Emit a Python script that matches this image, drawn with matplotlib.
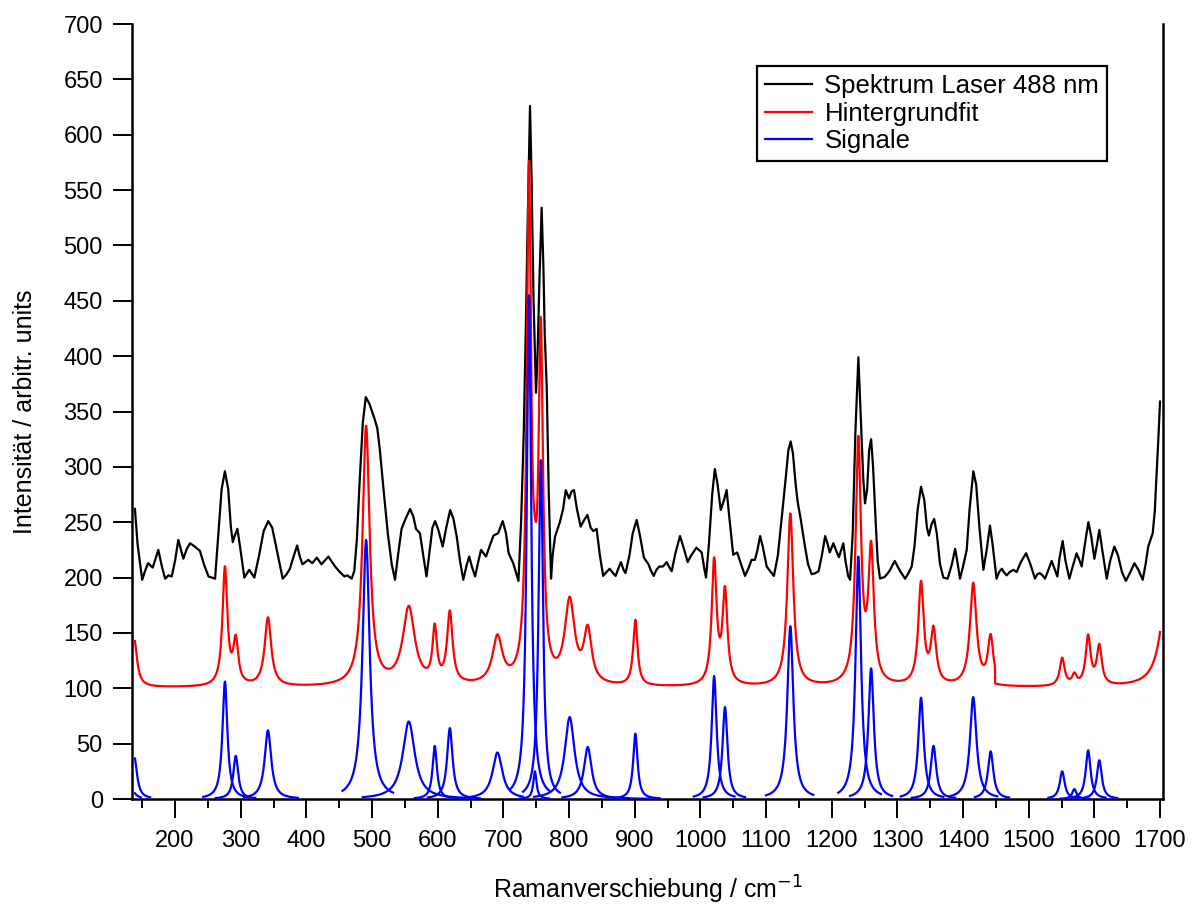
import numpy as np
import matplotlib
matplotlib.use("Agg")
import matplotlib.pyplot as plt
from matplotlib.ticker import MultipleLocator
from matplotlib.lines import Line2D

plt.rcParams['font.family'] = ['Liberation Sans', 'DejaVu Sans']

# ---- measured spectrum (black) ----
spec_x = [139, 143, 150, 155, 159, 166, 174.6, 180, 185, 190, 195, 200, 205, 209, 212.7, 218, 223, 230, 238, 244,
          251, 261, 266, 271, 276, 281, 285, 288, 291, 295, 299, 305.6, 313, 320.8, 328, 335, 342, 348, 355, 364,
          370, 375, 380, 386, 390, 394, 403, 409, 416, 423, 433.5, 443.7, 451, 458, 462.5, 469, 473, 477, 481, 486, 490.5,
          496, 503, 508, 512, 517, 524, 530, 535, 540, 545, 551, 558, 563, 567, 573, 578, 583, 588, 592, 596,
          601, 607.6, 613, 619, 624, 629, 634, 639, 644, 648, 652, 657, 662, 666, 673.6, 680, 685, 692, 699, 704,
          708, 715, 719, 723, 727, 731, 734, 737, 740.6, 743, 746, 749.7, 752, 755, 758.3, 761, 763, 766, 769, 772.6,
          775, 778.7, 786, 791, 795, 800, 804, 807.6, 812, 817.7, 823, 828, 833, 837, 842, 847, 852, 857, 862, 867,
          871, 875, 879, 883, 886, 892, 897, 903, 908, 914, 921, 925, 929, 933, 937.5, 943, 948.7, 953, 956.3, 962,
          969, 975, 980.7, 986, 994, 1002, 1006, 1008.6, 1013, 1018, 1022, 1026, 1031, 1036, 1040, 1044, 1050, 1056, 1062, 1068,
          1073, 1078, 1083, 1087, 1091, 1095, 1101, 1106, 1112, 1118, 1124, 1130, 1134, 1137.5, 1141, 1145, 1148, 1153, 1159, 1164,
          1169.5, 1175, 1180, 1185, 1190, 1194, 1197, 1202.5, 1207, 1211, 1217.7, 1221, 1225, 1228, 1232, 1236, 1240.6, 1244, 1248, 1250.7,
          1254, 1257, 1260, 1263, 1267, 1270, 1273.6, 1281, 1288, 1296, 1304, 1311.7, 1316, 1321.8, 1326, 1331, 1336, 1341, 1345, 1348,
          1352, 1356, 1360, 1365, 1370, 1376.6, 1383, 1388, 1392, 1395.4, 1400, 1405.6, 1410, 1415.7, 1420, 1425, 1431, 1436, 1441, 1445,
          1451, 1455, 1459, 1462, 1466.5, 1471, 1476.6, 1481.7, 1488, 1496, 1502, 1509.6, 1513, 1517, 1521, 1524.8, 1530, 1535, 1540, 1543.6,
          1547, 1551.7, 1556, 1561.9, 1567, 1573, 1577, 1580.7, 1585, 1590.8, 1595, 1600, 1604, 1607.6, 1612, 1618.8, 1624, 1630.4, 1636, 1642,
          1648, 1654, 1661, 1667, 1673.6, 1678, 1682, 1688.8, 1692, 1694, 1697, 1700]
spec_y = [262, 230, 198, 207, 213, 209, 225, 210, 199, 202, 201, 215, 234, 225, 217, 226, 231, 228, 224, 212,
          201, 199, 240, 280, 296, 280, 246, 232, 238, 244, 228, 200, 207, 200, 220, 242, 251, 245, 225, 199,
          203, 208, 218, 229, 219, 212, 216, 213, 218, 212, 219, 210, 205, 201, 202, 199, 206, 235, 285, 340, 363,
          357, 345, 335, 315, 283, 240, 212, 198, 222, 244, 253, 262, 255, 244, 240, 220, 201, 225, 245, 251,
          243, 228, 245, 261, 253, 237, 215, 198, 211, 219, 210, 201, 215, 225, 219, 230, 238, 240, 251, 240,
          222, 213, 205, 197, 250, 330, 420, 520, 626, 560, 450, 367, 400, 470, 534, 480, 420, 373, 280, 199,
          220, 237, 250, 262, 279, 271.5, 278, 279, 262, 246, 252, 256.6, 245, 242, 244, 220, 201.5, 205, 208, 204,
          201.5, 208, 214, 207, 204, 220, 240, 252, 238, 218, 212, 206, 201.5, 207, 210, 210, 214, 209, 205.7, 222,
          237.5, 226, 214, 220, 227, 222.7, 208, 200, 230, 275, 298, 285, 261, 270, 279, 255, 220.6, 222.7, 212, 201.5,
          208, 216, 216, 225, 237.5, 228, 210, 206, 201.5, 220, 254.5, 290, 315, 323, 312, 285, 269, 252, 229, 212,
          203, 204, 205.7, 220, 237.5, 230, 222.7, 231, 224, 218.4, 231, 215, 201.5, 198, 240, 330, 399, 350, 290, 267,
          280, 315, 325, 300, 250, 215, 199, 200.7, 206, 215, 206, 199, 203, 210, 228, 262, 282, 270, 245, 238,
          248, 253, 240, 212, 200, 199, 212, 226, 212, 199, 210, 225, 262, 296, 284, 245, 207, 225, 247, 230,
          199, 205, 208, 205, 202, 205, 207, 205, 214, 222, 213, 199, 203, 204, 202, 199, 207, 215, 207, 201,
          218, 233, 215, 199, 210, 222, 216, 210, 228, 250, 238, 217, 230, 243, 225, 199, 215, 228, 220, 205,
          197, 204, 213, 207, 198, 212, 228, 240, 260, 285, 320, 359]

# ---- fitted Lorentzian signals (blue) ----
sig_center = [138, 130, 276, 292.5, 341.5, 491, 556, 595.5, 618.5, 691, 739, 748, 757, 801, 828.5, 901,
              1021, 1037.5, 1137, 1240.5, 1260, 1336, 1355, 1415.5, 1442, 1551, 1569.5, 1590.5, 1607.5, 1712]
sig_height = [38, 22, 106, 39, 62, 234, 70, 48, 64, 42, 455, 25, 306, 74, 47, 59,
              111, 83, 156, 219, 118, 91.5, 48, 92, 43, 25, 9, 44, 35, 100]
sig_hwhm = [5, 5, 4.5, 4.5, 6, 6.5, 11, 4, 5, 9, 4, 3, 4, 9, 7, 4,
            4.5, 4.5, 5.5, 5, 5, 5, 5, 6, 5, 4.5, 4, 4.5, 4.5, 12]
# x range over which each signal is drawn
sig_lo = [139, 139, 243, 262, 305, 455, 486, 565, 585, 649, 710, 725, 730, 747, 790, 868,
          990, 1005, 1100, 1210, 1228, 1305, 1322, 1380, 1418, 1530, 1548, 1565, 1585, 1640]
sig_hi = [162, 148, 310, 322, 387, 532, 664, 640, 655, 730, 771, 770, 786, 890, 922, 938,
          1052, 1068, 1172, 1275, 1292, 1370, 1388, 1452, 1470, 1575, 1592, 1617, 1635, 1704]
# upper x limit of each signal's contribution to the background fit
sig_fit_hi = [1705] * 24 + [1449] + [1705] * 5
sig_drawn = [True] * 29 + [False]
baseline = 100.5
x_start, x_end = 139, 1700

legend_labels = ["Spektrum Laser 488 nm", "Hintergrundfit", "Signale"]


def lorentz(x, c, h, g):
    return h / (1.0 + ((x - c) / g) ** 2)


fig = plt.figure(figsize=(11.92, 9.05), dpi=100)
ax = fig.add_axes([132 / 1192, 1 - 799 / 905, (1163 - 132) / 1192, (799 - 24) / 905])

LW = 1.6
# black spectrum
ax.plot(spec_x, spec_y, color='black', lw=LW, zorder=2, solid_joinstyle='round')

# red background fit = baseline + sum of signals
xf = np.linspace(x_start, x_end, 4000)
fit = np.full_like(xf, float(baseline))
for c, h, g, fh in zip(sig_center, sig_height, sig_hwhm, sig_fit_hi):
    m = xf <= fh
    fit[m] += lorentz(xf[m], c, h, g)
ax.plot(xf, fit, color='#FF0000', lw=LW, zorder=3)

# blue signals
for c, h, g, lo, hi, d in zip(sig_center, sig_height, sig_hwhm, sig_lo, sig_hi, sig_drawn):
    if not d:
        continue
    xs = np.linspace(lo, hi, 400)
    ax.plot(xs, lorentz(xs, c, h, g), color='#0000FF', lw=LW, zorder=4)

ax.set_xlim(134.5, 1704.5)
ax.set_ylim(0, 700)

ax.xaxis.set_major_locator(MultipleLocator(100))
ax.xaxis.set_minor_locator(MultipleLocator(50))
ax.yaxis.set_major_locator(MultipleLocator(50))

ax.tick_params(axis='x', which='major', direction='out', length=14, width=1.4, labelsize=17, pad=8)
ax.tick_params(axis='x', which='minor', direction='out', length=6.5, width=1.4)
ax.tick_params(axis='y', which='major', direction='out', length=14, width=1.4, labelsize=17, pad=7)

for s in ['left', 'bottom', 'right']:
    ax.spines[s].set_linewidth(1.8)
ax.spines['top'].set_visible(False)

ax.set_xlabel("Ramanverschiebung / cm$^{-1}$", fontsize=18, labelpad=16)
ax.set_ylabel("Intensität / arbitr. units", fontsize=18, labelpad=19)

handles = [Line2D([], [], color='black', lw=LW),
           Line2D([], [], color='#FF0000', lw=LW),
           Line2D([], [], color='#0000FF', lw=LW)]
leg = ax.legend(handles, legend_labels, loc='upper right',
                bbox_to_anchor=(1107 / 1192, 1 - 66 / 905), bbox_transform=fig.transFigure,
                fontsize=18.5, frameon=True, fancybox=False, framealpha=1, edgecolor='black',
                handlelength=1.85, handletextpad=0.47, labelspacing=0.15, borderpad=0.3,
                borderaxespad=0)
leg.get_frame().set_linewidth(1.6)

fig.savefig("out.png", dpi=100)
